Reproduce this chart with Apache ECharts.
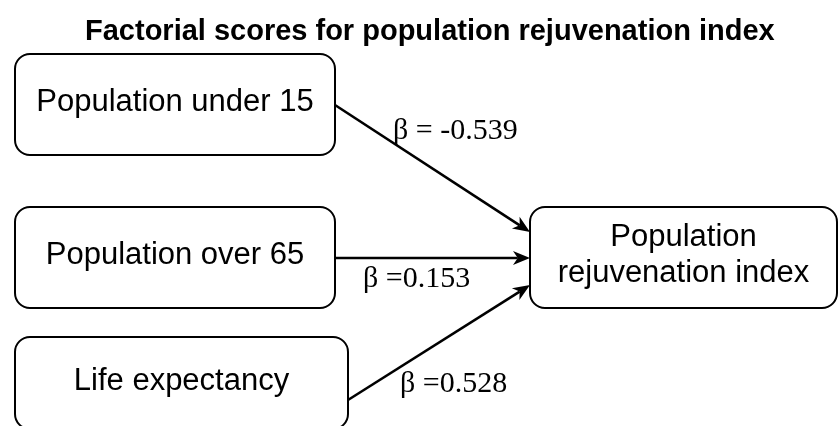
<!DOCTYPE html>
<html>
<head>
<meta charset="utf-8">
<script src="https://cdn.jsdelivr.net/npm/echarts@6/dist/echarts.min.js"></script>
<style>html,body{margin:0;padding:0;background:#fff;}#chart{width:838px;height:426px;}</style>
</head>
<body>
<div id="chart"></div>
<script>
// ---- data ----
const chartTitle = 'Factorial scores for population rejuvenation index';
const sourceNodes = ['Population under 15', 'Population over 65', 'Life expectancy'];
const targetNode = ['Population', 'rejuvenation index'];
const betaValues = [-0.539, 0.153, 0.528];
const betaPrefixes = ['β = ', 'β =', 'β ='];

// ---- layout (pixel space of a hidden 838x426 plane) ----
const boxLayout = [[15, 54, 320, 101], [15, 207, 320, 101], [15, 337, 333, 92], [530, 207, 307, 101]];
const edgeLayout = [
  [335, 105, 530, 232, 393, 131],
  [335, 258, 530, 258, 363, 279],
  [348, 400, 530, 285, 400, 384]
];

const boxTexts = sourceNodes.concat([targetNode.join('\n')]);
const betaTexts = betaValues.map((v, i) => betaPrefixes[i] + v.toFixed(3));

function renderBox(params, api) {
  const i = params.dataIndex;
  const p0 = api.coord([api.value(0), api.value(1)]);
  const p1 = api.coord([api.value(0) + api.value(2), api.value(1) + api.value(3)]);
  const x = Math.min(p0[0], p1[0]), y = Math.min(p0[1], p1[1]);
  const w = Math.abs(p1[0] - p0[0]), h = Math.abs(p1[1] - p0[1]);
  return {
    type: 'group',
    children: [
      { type: 'rect', shape: { x: x, y: y, width: w, height: h, r: 15 },
        style: { fill: '#fff', stroke: '#000', lineWidth: 2 } },
      { type: 'text', x: x + w / 2, y: y + h / 2 - 2,
        style: { text: boxTexts[i], font: '31px "Liberation Sans", Arial, sans-serif', fill: '#000',
                 align: 'center', verticalAlign: 'middle', lineHeight: 36 } }
    ]
  };
}

function renderEdge(params, api) {
  const i = params.dataIndex;
  const s = api.coord([api.value(0), api.value(1)]);
  const t = api.coord([api.value(2), api.value(3)]);
  const l = api.coord([api.value(4), api.value(5)]);
  const dx = t[0] - s[0], dy = t[1] - s[1];
  const len = Math.hypot(dx, dy), ux = dx / len, uy = dy / len;
  const al = 17, aw = 7;
  const bx = t[0] - ux * al, by = t[1] - uy * al;
  const notch = [t[0] - ux * al * 0.72, t[1] - uy * al * 0.72];
  return {
    type: 'group',
    children: [
      { type: 'line', shape: { x1: s[0], y1: s[1], x2: notch[0], y2: notch[1] },
        style: { stroke: '#000', lineWidth: 2.6 } },
      { type: 'polygon', shape: { points: [[t[0], t[1]], [bx - uy * aw, by + ux * aw], notch, [bx + uy * aw, by - ux * aw]] },
        style: { fill: '#000' } },
      { type: 'text', x: l[0], y: l[1],
        style: { text: betaTexts[i], font: '30px "Liberation Serif", "Times New Roman", serif', fill: '#000',
                 align: 'left', verticalAlign: 'middle' } }
    ]
  };
}

const chart = echarts.init(document.getElementById('chart'), null, { renderer: 'canvas' });
chart.setOption({
  backgroundColor: '#fff',
  animation: false,
  title: {
    text: chartTitle, left: 85, top: 17, padding: 0,
    textStyle: { fontFamily: '"Liberation Sans", Arial, sans-serif', fontWeight: 'bold', fontSize: 29, color: '#000' }
  },
  grid: { left: 0, right: 0, top: 0, bottom: 0 },
  xAxis: { type: 'value', min: 0, max: 838, show: false },
  yAxis: { type: 'value', min: 0, max: 426, inverse: true, show: false },
  series: [
    { type: 'custom', coordinateSystem: 'cartesian2d', renderItem: renderEdge, data: edgeLayout, silent: true, z: 1 },
    { type: 'custom', coordinateSystem: 'cartesian2d', renderItem: renderBox, data: boxLayout, silent: true, clip: false, z: 2 }
  ]
});
</script>
</body>
</html>
